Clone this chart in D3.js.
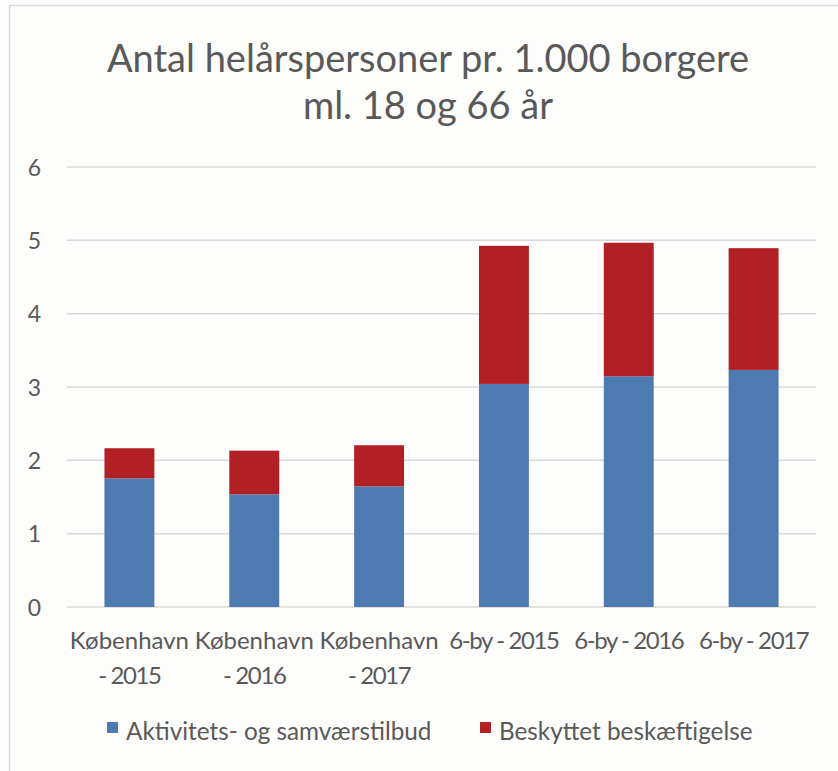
<!DOCTYPE html>
<html><head><meta charset="utf-8">
<script src="https://cdn.jsdelivr.net/npm/d3@7"></script>
<style>body{margin:0;background:#fff}svg{display:block}</style>
</head><body>
<script>
const categories = ["København - 2015","København - 2016","København - 2017","6-by - 2015","6-by - 2016","6-by - 2017"];
const aktivitet = [1.755, 1.537, 1.646, 3.042, 3.147, 3.233];
const beskyttet = [0.41, 0.595, 0.56, 1.883, 1.82, 1.66];
const seriesNames = ["Aktivitets- og samværstilbud","Beskyttet beskæftigelse"];
const colors = ["#4e7ab2","#b21f24"];
const yTicks = [0,1,2,3,4,5,6];
const titleLines = ["Antal helårspersoner pr. 1.000 borgere","ml. 18 og 66 år"];

const W=838,H=771;
const svg=d3.select("body").append("svg").attr("width",W).attr("height",H);
const font="Lato, 'Open Sans', sans-serif";
svg.append("rect").attr("x",0).attr("y",0).attr("width",W).attr("height",H).attr("fill","#fdfdfc");
svg.append("rect").attr("x",9.5).attr("y",5.5).attr("width",W+10).attr("height",H+10).attr("fill","none").attr("stroke","#d9d9d9").attr("stroke-width",1.5);

const m={l:67,r:816,t:167,b:607};
const x=d3.scaleBand().domain(categories).range([m.l,m.r]).paddingInner(0.6).paddingOuter(0.3);
const y=d3.scaleLinear().domain([0,6]).range([m.b,m.t]);

const g=svg.append("g");
g.selectAll("line.grid").data(yTicks).join("line").attr("class","grid")
 .attr("x1",m.l).attr("x2",m.r).attr("y1",d=>y(d)).attr("y2",d=>y(d))
 .attr("stroke","#d9d9d9").attr("stroke-width",1.5);

const yAxis=d3.axisLeft(y).tickValues(yTicks).tickSize(0).tickPadding(0).tickFormat(d3.format("d"));
const ya=svg.append("g").attr("transform","translate(41,0)").call(yAxis);
ya.select(".domain").remove();
ya.selectAll("text").attr("font-family",font).attr("font-size",23).attr("fill","#595959").attr("dy","0.35em");

const stackData=categories.map((c,i)=>({cat:c,a:aktivitet[i],b:beskyttet[i]}));
const stack=d3.stack().keys(["a","b"])(stackData);
svg.append("g").selectAll("g").data(stack).join("g").attr("fill",(d,i)=>colors[i])
 .selectAll("rect").data(d=>d).join("rect")
 .attr("x",d=>x(d.data.cat)).attr("width",x.bandwidth())
 .attr("y",d=>y(d[1])).attr("height",d=>y(d[0])-y(d[1]));

const xa=svg.append("g").attr("transform",`translate(0,${m.b})`).call(d3.axisBottom(x).tickSize(0).tickFormat(""));
xa.select(".domain").remove();
categories.forEach(c=>{
  const cx=x(c)+x.bandwidth()/2;
  const kbh=c.startsWith("København");
  const parts=kbh?["København","- "+c.split(" - ")[1]]:[c];
  parts.forEach((p,j)=>{
    svg.append("text").attr("x",cx).attr("y",649+j*35).attr("text-anchor","middle")
     .attr("font-family",font).attr("font-size",24).attr("fill","#595959")
     .attr("letter-spacing",(!kbh||j===1)?"-1.4px":"0px").text(p);
  });
});

titleLines.forEach((t,i)=>{
  svg.append("text").attr("x",428).attr("y",72+i*47).attr("text-anchor","middle")
   .attr("font-family",font).attr("font-size",38).attr("fill","#595959").text(t);
});

const leg=[{x:107},{x:480}];
seriesNames.forEach((s,i)=>{
  svg.append("rect").attr("x",leg[i].x).attr("y",722).attr("width",11).attr("height",11).attr("fill",colors[i]);
  svg.append("text").attr("x",leg[i].x+19).attr("y",740).attr("font-family",font).attr("font-size",24.3).attr("fill","#595959").text(s);
});
</script>
</body></html>
